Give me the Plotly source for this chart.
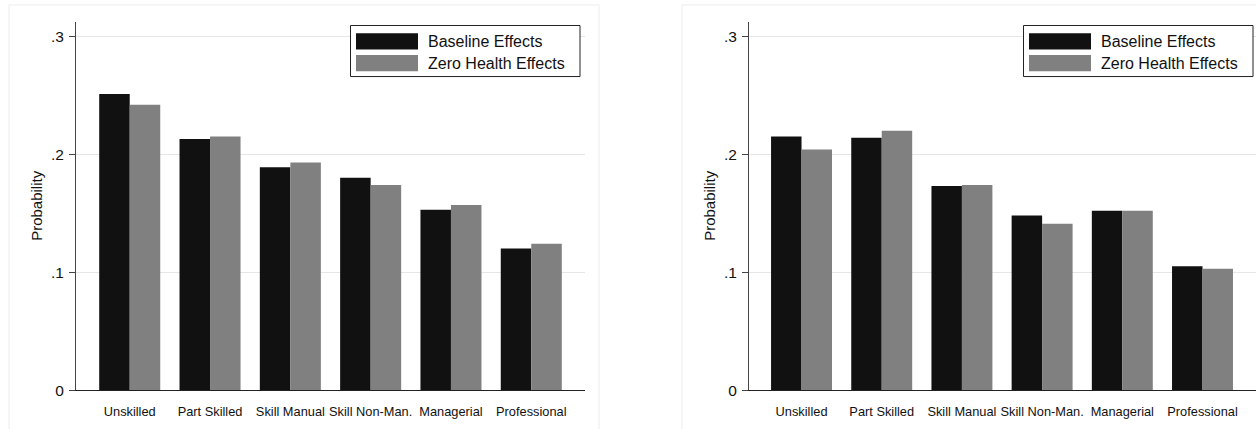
import plotly.graph_objects as go

# ---------------- data ----------------
categories = ["Unskilled", "Part Skilled", "Skill Manual", "Skill Non-Man.", "Managerial", "Professional"]
left_baseline = [0.251, 0.213, 0.189, 0.180, 0.153, 0.120]
left_zero_health = [0.242, 0.215, 0.193, 0.174, 0.157, 0.124]
right_baseline = [0.215, 0.214, 0.173, 0.148, 0.152, 0.105]
right_zero_health = [0.204, 0.220, 0.174, 0.141, 0.152, 0.103]
series_names = ["Baseline Effects", "Zero Health Effects"]
y_tickvals = [0, 0.1, 0.2, 0.3]
y_ticktext = ["0", ".1", ".2", ".3"]
y_title = "Probability"

# ---------------- layout helpers ----------------
W, H = 1256, 429
FONT = "Liberation Sans, Arial, Helvetica, sans-serif"
BLACK = "#111111"
GRAY = "#808080"


def px(x):
    return x / W


def py(y):
    return 1 - y / H


fig = go.Figure()
colors = [BLACK, GRAY]
panels = [
    ("x", "y", [left_baseline, left_zero_health]),
    ("x2", "y2", [right_baseline, right_zero_health]),
]
for xa, ya, vals in panels:
    for name, v, c in zip(series_names, vals, colors):
        fig.add_trace(go.Bar(x=categories, y=v, name=name, marker=dict(color=c, line=dict(width=0)),
                             xaxis=xa, yaxis=ya, showlegend=False))

x_common = dict(showgrid=False, zeroline=False, showline=True, linecolor="#222222", linewidth=1,
                ticks="", tickfont=dict(family=FONT, size=12.8, color="#111111"),
                ticklabelstandoff=10, fixedrange=True)
y_common = dict(range=[0, 0.3125], tickvals=y_tickvals, ticktext=y_ticktext, showgrid=True,
                gridcolor="#e6e6e6", gridwidth=1, zeroline=False, showline=True, linecolor="#444444",
                linewidth=1, ticks="outside", ticklen=6, tickcolor="#444444",
                tickfont=dict(family=FONT, size=15.5, color="#111111"), ticklabelstandoff=2, fixedrange=True)

ydom = [py(397.5), py(22)]
fig.update_layout(
    width=W, height=H, margin=dict(l=0, r=0, t=0, b=0),
    paper_bgcolor="white", plot_bgcolor="white",
    barmode="group", bargap=0.24, bargroupgap=0,
    xaxis=dict(domain=[px(76), px(585)], range=[-0.669, 5.669], anchor="y", **x_common),
    yaxis=dict(domain=ydom, anchor="x", **y_common),
    xaxis2=dict(domain=[px(749), 1.0], range=[-0.655, 5.667], anchor="y2", **x_common),
    yaxis2=dict(domain=ydom, anchor="x2", **y_common),
)

shapes = []
annotations = []
# graph-region frames
for x0, x1 in [(9, 599), (682, 1300)]:
    shapes.append(dict(type="rect", xref="paper", yref="paper", x0=px(x0), x1=px(x1), y0=py(460), y1=py(5),
                       line=dict(color="#ececec", width=1), fillcolor="rgba(0,0,0,0)", layer="below"))

for off, axis_x in [(0, 76), (673, 749)]:
    # y-axis title
    annotations.append(dict(text=y_title, xref="paper", yref="paper", x=px(axis_x - 39), y=(ydom[0] + ydom[1]) / 2,
                            textangle=-90, showarrow=False, xanchor="center", yanchor="middle",
                            font=dict(family=FONT, size=15, color="#111111")))
    # legend box
    shapes.append(dict(type="rect", xref="paper", yref="paper", x0=px(350.5 + off), x1=px(580 + off),
                       y0=py(78), y1=py(26), line=dict(color="#222222", width=1), fillcolor="white"))
    for i, (name, c) in enumerate(zip(series_names, colors)):
        ytop = 34 + i * 22
        shapes.append(dict(type="rect", xref="paper", yref="paper", x0=px(356 + off), x1=px(418 + off),
                           y0=py(ytop + 16.5), y1=py(ytop), line=dict(width=0), fillcolor=c))
        annotations.append(dict(text=name, xref="paper", yref="paper", x=px(426 + off), y=py(ytop + 8.5),
                                showarrow=False, xanchor="left", yanchor="middle",
                                font=dict(family=FONT, size=16, color="#111111")))

fig.update_layout(shapes=shapes, annotations=annotations)
fig.write_html("out.html", config={"displayModeBar": False},
               post_script="document.body.style.margin='0';document.body.style.overflow='hidden';")
